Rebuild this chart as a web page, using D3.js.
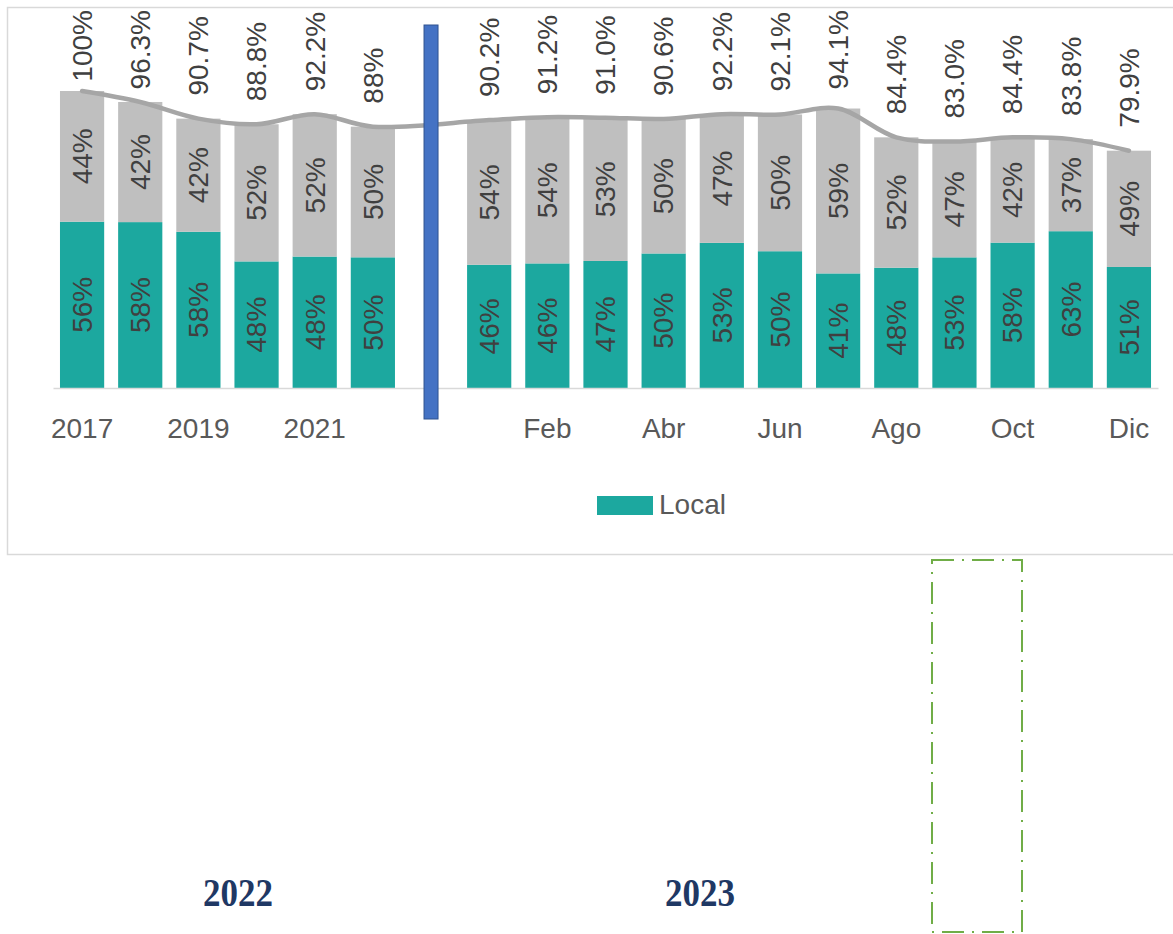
<!DOCTYPE html>
<html>
<head>
<meta charset="utf-8">
<script src="https://cdn.jsdelivr.net/npm/d3@7"></script>
<style>
  html, body { margin: 0; padding: 0; background: #ffffff; }
  svg { display: block; }
</style>
</head>
<body>
<svg id="chart" width="1173" height="934"></svg>
<script>
// ---- Data ----
const categories = ["2017","2018","2019","2020","2021","2022","gap","Ene","Feb","Mar","Abr","May","Jun","Jul","Ago","Sep","Oct","Nov","Dic"];
const tickLabels = ["2017","2018","2019","2020","2021","2022","","Ene","Feb","Mar","Abr","May","Jun","Jul","Ago","Sep","Oct","Nov","Dic"];
const totals = [100, 96.3, 90.7, 88.8, 92.2, 88, null, 90.2, 91.2, 91.0, 90.6, 92.2, 92.1, 94.1, 84.4, 83.0, 84.4, 83.8, 79.9];
const totalLabels = ["100%","96.3%","90.7%","88.8%","92.2%","88%",null,"90.2%","91.2%","91.0%","90.6%","92.2%","92.1%","94.1%","84.4%","83.0%","84.4%","83.8%","79.9%"];
const localShare = [56, 58, 58, 48, 48, 50, null, 46, 46, 47, 50, 53, 50, 41, 48, 53, 58, 63, 51];
const otherShare = [44, 42, 42, 52, 52, 50, null, 54, 54, 53, 50, 47, 50, 59, 52, 47, 42, 37, 49];
const legendLabels = ["Local"];
const periodLabels = ["2022", "2023"];

// ---- Setup ----
const svg = d3.select("#chart");
const font = "'Liberation Sans', Arial, sans-serif";
const colLocal = "#1ca89f";
const colOther = "#bfbfbf";
const colLine = "#a6a6a6";
const colText = "#404040";
const colAxis = "#595959";

// chart frame
svg.append("rect")
  .attr("x", 7.5).attr("y", 7.5).attr("width", 1200).attr("height", 547)
  .attr("fill", "#ffffff").attr("stroke", "#d9d9d9").attr("stroke-width", 1.5);

const x = d3.scaleBand().domain(categories).range([53, 1158]).paddingInner(0.24).paddingOuter(0.12);
const y = d3.scaleLinear().domain([0, 100]).range([388, 91]);

const rows = categories.map((c, i) => ({
  cat: c, i, total: totals[i], label: totalLabels[i],
  local: localShare[i], other: otherShare[i]
})).filter(d => d.total != null);

const cx = d => x(d.cat) + x.bandwidth() / 2;

// bars: local (bottom)
svg.append("g").selectAll("rect").data(rows).join("rect")
  .attr("x", d => x(d.cat)).attr("width", x.bandwidth())
  .attr("y", d => y(d.total * d.local / 100))
  .attr("height", d => y(0) - y(d.total * d.local / 100))
  .attr("fill", colLocal);

// bars: other (top)
svg.append("g").selectAll("rect").data(rows).join("rect")
  .attr("x", d => x(d.cat)).attr("width", x.bandwidth())
  .attr("y", d => y(d.total))
  .attr("height", d => y(d.total * d.local / 100) - y(d.total))
  .attr("fill", colOther);

// axis
const axis = d3.axisBottom(x)
  .tickValues(categories.filter((c, i) => i % 2 === 0))
  .tickFormat(c => tickLabels[categories.indexOf(c)])
  .tickSize(0).tickSizeOuter(0).tickPadding(30);
const ax = svg.append("g").attr("transform", `translate(0,${y(0)})`).call(axis);
ax.select(".domain").attr("stroke", "#d9d9d9").attr("stroke-width", 1.5);
ax.selectAll("text").attr("fill", colAxis).style("font-family", font).style("font-size", "28px");

// total line
const line = d3.line().x(d => cx(d)).y(d => y(d.total)).curve(d3.curveCatmullRom.alpha(0.5));
svg.append("path").datum(rows).attr("d", line)
  .attr("fill", "none").attr("stroke", colLine).attr("stroke-width", 4.5)
  .attr("stroke-linejoin", "round").attr("stroke-linecap", "round");

// in-bar labels
function segLabel(getMid, getText) {
  svg.append("g").selectAll("text").data(rows).join("text")
    .attr("transform", d => `translate(${cx(d)},${getMid(d)}) rotate(-90)`)
    .attr("text-anchor", "middle").attr("dy", "0.35em")
    .attr("fill", colText).style("font-family", font).style("font-size", "28px")
    .text(getText);
}
segLabel(d => (y(0) + y(d.total * d.local / 100)) / 2, d => d.local + "%");
segLabel(d => (y(d.total * d.local / 100) + y(d.total)) / 2, d => d.other + "%");

// total labels (clamped to top of chart area)
const tl = svg.append("g").selectAll("text").data(rows).join("text")
  .attr("text-anchor", "start").attr("dy", "0.35em")
  .attr("fill", colText).style("font-family", font).style("font-size", "28px")
  .text(d => d.label);
tl.each(function(d) {
  const len = this.getComputedTextLength();
  let bottom = y(d.total) - 23;
  if (bottom - len < 10) bottom = 10 + len;
  d3.select(this).attr("transform", `translate(${cx(d)},${bottom}) rotate(-90)`);
});

// blue divider at the gap
const gx = x("gap") + x.bandwidth() / 2;
svg.append("rect").attr("x", gx - 7).attr("y", 25).attr("width", 14).attr("height", 394)
  .attr("fill", "#4472c4").attr("stroke", "#2f528f").attr("stroke-width", 1);

// legend
const lg = svg.append("g").attr("transform", "translate(597,496)");
lg.append("rect").attr("width", 56).attr("height", 19).attr("fill", colLocal);
lg.append("text").attr("x", 62).attr("y", 18).attr("fill", colAxis)
  .style("font-family", font).style("font-size", "28px").text(legendLabels[0]);

// period labels below
const periodX = [238, 700];
svg.append("g").selectAll("text").data(periodLabels).join("text")
  .attr("x", (d, i) => periodX[i]).attr("y", 906)
  .attr("text-anchor", "middle").attr("fill", "#1f3864")
  .attr("textLength", 70).attr("lengthAdjust", "spacingAndGlyphs")
  .style("font-family", "'Liberation Serif', 'DejaVu Serif', serif")
  .style("font-weight", "bold").style("font-size", "40px")
  .text(d => d);

// green dash-dot box
svg.append("rect").attr("x", 932).attr("y", 560).attr("width", 90).attr("height", 372)
  .attr("fill", "none").attr("stroke", "#70ad47").attr("stroke-width", 2)
  .attr("stroke-dasharray", "22 8 2 8");
</script>
</body>
</html>
